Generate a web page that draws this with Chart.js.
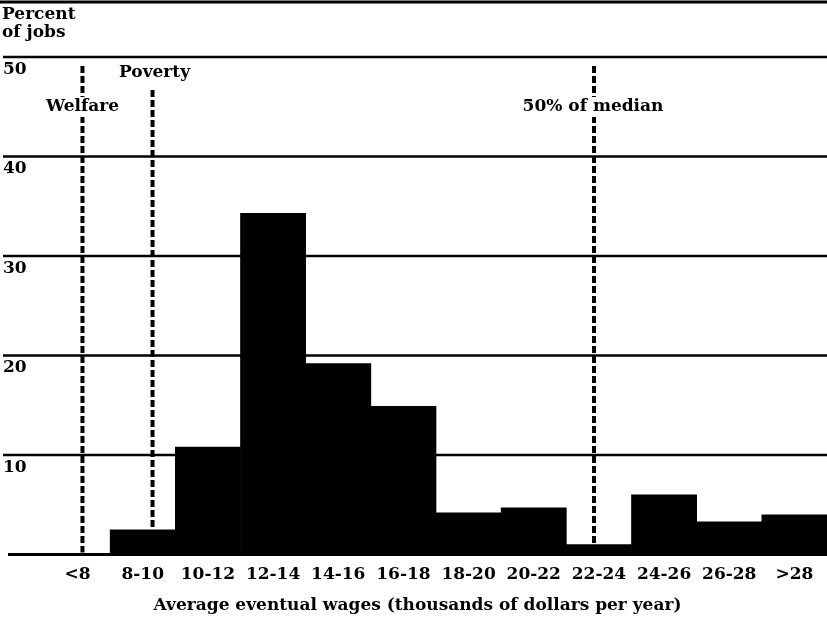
<!DOCTYPE html>
<html>
<head>
<meta charset="utf-8">
<script src="https://cdn.jsdelivr.net/npm/chart.js@4"></script>
<style>
  html, body { margin: 0; padding: 0; background: #fff; }
  #wrap { width: 827px; height: 621px; }
</style>
</head>
<body>
<div id="wrap"><canvas id="wageChart" width="827" height="621"></canvas></div>
<script>
// 賃金帯ごとの仕事の割合
const categories = ['<8', '8-10', '10-12', '12-14', '14-16', '16-18', '18-20', '20-22', '22-24', '24-26', '26-28', '>28'];
const percentJobs = [0, 2.5, 10.8, 34.3, 19.2, 14.9, 4.2, 4.7, 1.0, 6.0, 3.3, 4.0];
const yTicks = [0, 10, 20, 30, 40, 50];
const yTickLabels = ['', '10', '20', '30', '40', '50'];
// 基準線 (千ドル)
const markerNames = ['Welfare', 'Poverty', '50% of median'];
const markerWages = [7.15, 9.3, 22.85];
const xTitle = 'Average eventual wages (thousands of dollars per year)';

const FONT = 'bold 17px "DejaVu Serif"';

// グリッド線・目盛り・基準線を描くプラグイン
const decor = {
  id: 'decor',
  beforeDatasetsDraw(chart) {
    const ctx = chart.ctx;
    const y = chart.scales.y;
    const W = chart.width;
    ctx.save();
    ctx.fillStyle = '#000';
    ctx.strokeStyle = '#000';
    // top rule
    ctx.lineWidth = 3;
    ctx.beginPath(); ctx.moveTo(0, 2); ctx.lineTo(W, 2); ctx.stroke();
    ctx.font = FONT;
    ctx.textBaseline = 'top';
    ctx.textAlign = 'left';
    ctx.fillText('Percent', 2, 6);
    ctx.fillText('of jobs', 2, 24);
    yTicks.forEach((v, i) => {
      const py = y.getPixelForValue(v);
      ctx.lineWidth = v === 0 ? 3 : 2.5;
      ctx.beginPath(); ctx.moveTo(v === 0 ? 8 : 3, py); ctx.lineTo(W, py); ctx.stroke();
      if (yTickLabels[i]) ctx.fillText(yTickLabels[i], 3, py + 4);
    });
    // x axis title
    ctx.textAlign = 'center';
    ctx.textBaseline = 'middle';
    ctx.fillText(xTitle, W / 2 + 4, 606);
    ctx.restore();
  },
  afterDatasetsDraw(chart) {
    const ctx = chart.ctx;
    const x = chart.scales.x;
    const y = chart.scales.y;
    const base = y.getPixelForValue(0);
    ctx.save();
    ctx.font = FONT;
    ctx.textAlign = 'center';
    ctx.textBaseline = 'middle';
    markerWages.forEach((w, i) => {
      const px = x.getPixelForValue((w - 7) / 2);
      const top = i === 1 ? 90 : 66;
      ctx.strokeStyle = '#000';
      ctx.lineWidth = 4;
      ctx.lineCap = 'butt';
      ctx.setLineDash([7, 3]);
      ctx.beginPath(); ctx.moveTo(px, top); ctx.lineTo(px, base - 2); ctx.stroke();
      ctx.setLineDash([]);
      let lx = px, ly = 107;
      if (i === 1) { lx = px + 2; ly = 73; }
      if (i === 2) { lx = px - 1; }
      const tw = ctx.measureText(markerNames[i]).width;
      if (i !== 1) {
        ctx.fillStyle = '#fff';
        ctx.fillRect(lx - tw / 2 - 1, ly - 10, tw + 2, 20);
      }
      ctx.fillStyle = '#000';
      ctx.fillText(markerNames[i], lx, ly);
    });
    ctx.restore();
  }
};

const ctx = document.getElementById('wageChart').getContext('2d');
const wageChart = new Chart(ctx, {
  type: 'bar',
  data: {
    labels: categories,
    datasets: [{
      label: 'Percent of jobs',
      data: percentJobs,
      backgroundColor: '#000',
      borderWidth: 0,
      barPercentage: 1,
      categoryPercentage: 1
    }]
  },
  options: {
    responsive: false,
    animation: false,
    layout: { padding: { top: 57, left: 45, right: 0, bottom: 26 } },
    plugins: { legend: { display: false }, tooltip: { enabled: false } },
    scales: {
      x: {
        grid: { display: false, drawTicks: false },
        border: { display: false },
        ticks: { color: '#000', font: { family: 'DejaVu Serif', size: 17, weight: 'bold' }, padding: 10, maxRotation: 0, autoSkip: false }
      },
      y: {
        display: false,
        min: 0,
        max: 50
      }
    }
  },
  plugins: [decor]
});
</script>
</body>
</html>
